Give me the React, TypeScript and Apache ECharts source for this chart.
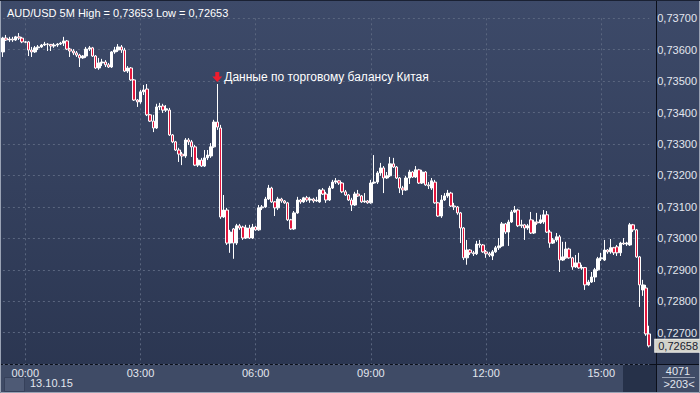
import React, { useEffect, useRef } from 'react';
import * as echarts from 'echarts';

const symbolName = 'AUD/USD';
const timeframe = '5M';
const sessionDate = '13.10.15';
const firstBarTime = '23:25';
const barMinutes = 5;
const volumeLabel = '4071';
const newsTime = '05:00';
const newsText = 'Данные по торговому балансу Китая';

const priceMin = 0.726;
const priceMax = 0.737;
const priceStep = 0.001;

const opens = [
  0.73593, 0.73637, 0.73631, 0.73634, 0.73631, 0.73641, 0.73637, 0.73625, 0.73625, 0.73599,
  0.73593, 0.73606, 0.73609, 0.73615, 0.73618, 0.73617, 0.73612, 0.73615, 0.73618, 0.73621,
  0.73628, 0.73602, 0.73596, 0.73590, 0.73583, 0.73574, 0.73580, 0.73602, 0.73606, 0.73580,
  0.73542, 0.73558, 0.73561, 0.73552, 0.73545, 0.73593, 0.73599, 0.73609, 0.73599, 0.73532,
  0.73542, 0.73504, 0.73440, 0.73434, 0.73466, 0.73475, 0.73393, 0.73373, 0.73351, 0.73418,
  0.73421, 0.73408, 0.73408, 0.73329, 0.73307, 0.73281, 0.73268, 0.73262, 0.73313, 0.73307,
  0.73291, 0.73233, 0.73249, 0.73230, 0.73256, 0.73262, 0.73291, 0.73370, 0.73351, 0.73068,
  0.73090, 0.72985, 0.73030, 0.72985, 0.73040, 0.73036, 0.73001, 0.73033, 0.73001, 0.73036,
  0.73027, 0.73097, 0.73100, 0.73125, 0.73160, 0.73116, 0.73097, 0.73125, 0.73119, 0.73113,
  0.73059, 0.73030, 0.73081, 0.73122, 0.73116, 0.73129, 0.73122, 0.73125, 0.73119, 0.73116,
  0.73154, 0.73141, 0.73122, 0.73160, 0.73179, 0.73183, 0.73176, 0.73148, 0.73138, 0.73122,
  0.73106, 0.73141, 0.73135, 0.73116, 0.73119, 0.73113, 0.73176, 0.73179, 0.73208, 0.73224,
  0.73192, 0.73199, 0.73237, 0.73227, 0.73192, 0.73160, 0.73154, 0.73192, 0.73211, 0.73195,
  0.73218, 0.73176, 0.73211, 0.73170, 0.73160, 0.73179, 0.73113, 0.73071, 0.73122, 0.73135,
  0.73144, 0.73103, 0.73100, 0.73081, 0.73033, 0.72938, 0.72963, 0.72954, 0.72951, 0.72982,
  0.72979, 0.72957, 0.72951, 0.72944, 0.72957, 0.72970, 0.72976, 0.73046, 0.73020, 0.73052,
  0.73084, 0.73090, 0.73040, 0.73043, 0.73033, 0.73059, 0.73017, 0.73052, 0.73049, 0.73052,
  0.73075, 0.73020, 0.72985, 0.72995, 0.73005, 0.72931, 0.72938, 0.72966, 0.72938, 0.72909,
  0.72922, 0.72906, 0.72907, 0.72852, 0.72861, 0.72877, 0.72900, 0.72935, 0.72931, 0.72963,
  0.72957, 0.72970, 0.72973, 0.72954, 0.72985, 0.72982, 0.72979, 0.73043, 0.73027, 0.72941,
  0.72836, 0.72842, 0.72696,
];

const closes = [
  0.73637, 0.73631, 0.73634, 0.73631, 0.73641, 0.73637, 0.73625, 0.73624, 0.73599, 0.73593,
  0.73606, 0.73609, 0.73615, 0.73618, 0.73617, 0.73612, 0.73615, 0.73618, 0.73621, 0.73628,
  0.73602, 0.73596, 0.73590, 0.73583, 0.73574, 0.73580, 0.73602, 0.73606, 0.73580, 0.73542,
  0.73558, 0.73561, 0.73552, 0.73545, 0.73593, 0.73599, 0.73609, 0.73599, 0.73532, 0.73542,
  0.73504, 0.73440, 0.73434, 0.73466, 0.73472, 0.73393, 0.73373, 0.73351, 0.73418, 0.73421,
  0.73408, 0.73412, 0.73329, 0.73307, 0.73281, 0.73268, 0.73262, 0.73313, 0.73307, 0.73291,
  0.73233, 0.73249, 0.73230, 0.73256, 0.73265, 0.73291, 0.73370, 0.73354, 0.73068, 0.73090,
  0.72985, 0.73020, 0.72985, 0.73040, 0.73033, 0.73001, 0.73033, 0.73001, 0.73036, 0.73027,
  0.73097, 0.73100, 0.73125, 0.73160, 0.73116, 0.73097, 0.73125, 0.73119, 0.73113, 0.73059,
  0.73030, 0.73081, 0.73122, 0.73116, 0.73129, 0.73122, 0.73125, 0.73119, 0.73122, 0.73154,
  0.73141, 0.73122, 0.73160, 0.73179, 0.73183, 0.73176, 0.73148, 0.73138, 0.73122, 0.73106,
  0.73141, 0.73135, 0.73116, 0.73119, 0.73113, 0.73176, 0.73179, 0.73208, 0.73224, 0.73192,
  0.73199, 0.73237, 0.73227, 0.73192, 0.73160, 0.73154, 0.73192, 0.73211, 0.73195, 0.73218,
  0.73176, 0.73211, 0.73170, 0.73167, 0.73183, 0.73113, 0.73071, 0.73122, 0.73135, 0.73144,
  0.73103, 0.73100, 0.73081, 0.73033, 0.72938, 0.72963, 0.72954, 0.72951, 0.72982, 0.72979,
  0.72957, 0.72951, 0.72947, 0.72957, 0.72970, 0.72976, 0.73046, 0.73020, 0.73052, 0.73084,
  0.73090, 0.73040, 0.73043, 0.73033, 0.73040, 0.73017, 0.73052, 0.73049, 0.73059, 0.73075,
  0.73020, 0.72985, 0.72995, 0.73005, 0.72931, 0.72941, 0.72966, 0.72938, 0.72909, 0.72922,
  0.72906, 0.72907, 0.72852, 0.72861, 0.72877, 0.72900, 0.72935, 0.72938, 0.72963, 0.72957,
  0.72970, 0.72954, 0.72954, 0.72985, 0.72982, 0.72985, 0.73043, 0.73027, 0.72941, 0.72852,
  0.72852, 0.72696, 0.72658,
];

const lows = [
  0.73577, 0.73628, 0.73625, 0.73625, 0.73628, 0.73631, 0.73621, 0.73621, 0.73580, 0.73577,
  0.73590, 0.73599, 0.73606, 0.73612, 0.73596, 0.73596, 0.73606, 0.73609, 0.73615, 0.73612,
  0.73599, 0.73577, 0.73583, 0.73577, 0.73545, 0.73571, 0.73574, 0.73596, 0.73577, 0.73539,
  0.73536, 0.73548, 0.73545, 0.73542, 0.73542, 0.73587, 0.73593, 0.73590, 0.73529, 0.73526,
  0.73501, 0.73437, 0.73418, 0.73428, 0.73456, 0.73389, 0.73370, 0.73338, 0.73348, 0.73408,
  0.73399, 0.73402, 0.73326, 0.73303, 0.73278, 0.73243, 0.73233, 0.73256, 0.73297, 0.73259,
  0.73230, 0.73227, 0.73227, 0.73227, 0.73249, 0.73256, 0.73288, 0.73345, 0.73062, 0.73065,
  0.72979, 0.72954, 0.72935, 0.72979, 0.73027, 0.72995, 0.72998, 0.72998, 0.72998, 0.73024,
  0.73024, 0.73090, 0.73097, 0.73122, 0.73113, 0.73071, 0.73090, 0.73113, 0.73110, 0.73055,
  0.73027, 0.73027, 0.73078, 0.73110, 0.73113, 0.73116, 0.73113, 0.73113, 0.73116, 0.73113,
  0.73138, 0.73113, 0.73119, 0.73157, 0.73173, 0.73170, 0.73144, 0.73135, 0.73119, 0.73087,
  0.73103, 0.73132, 0.73113, 0.73113, 0.73110, 0.73110, 0.73173, 0.73173, 0.73199, 0.73144,
  0.73189, 0.73195, 0.73224, 0.73189, 0.73144, 0.73138, 0.73151, 0.73173, 0.73192, 0.73192,
  0.73173, 0.73173, 0.73167, 0.73157, 0.73154, 0.73110, 0.73068, 0.73065, 0.73119, 0.73129,
  0.73100, 0.73090, 0.73075, 0.72985, 0.72931, 0.72916, 0.72947, 0.72944, 0.72947, 0.72970,
  0.72954, 0.72938, 0.72941, 0.72931, 0.72954, 0.72963, 0.72973, 0.73014, 0.72976, 0.73049,
  0.73081, 0.73036, 0.73033, 0.72995, 0.73027, 0.73014, 0.73014, 0.73043, 0.73046, 0.73046,
  0.73017, 0.72970, 0.72982, 0.72989, 0.72893, 0.72928, 0.72935, 0.72935, 0.72900, 0.72906,
  0.72903, 0.72900, 0.72836, 0.72849, 0.72858, 0.72861, 0.72896, 0.72928, 0.72928, 0.72951,
  0.72951, 0.72947, 0.72944, 0.72944, 0.72979, 0.72976, 0.72976, 0.73020, 0.72938, 0.72782,
  0.72817, 0.72690, 0.72653,
];

const highs = [
  0.73641, 0.73647, 0.73641, 0.73641, 0.73644, 0.73653, 0.73641, 0.73628, 0.73628, 0.73609,
  0.73612, 0.73615, 0.73618, 0.73625, 0.73621, 0.73618, 0.73621, 0.73621, 0.73625, 0.73641,
  0.73631, 0.73606, 0.73602, 0.73596, 0.73587, 0.73583, 0.73609, 0.73612, 0.73609, 0.73583,
  0.73574, 0.73571, 0.73567, 0.73558, 0.73596, 0.73609, 0.73618, 0.73615, 0.73606, 0.73548,
  0.73545, 0.73507, 0.73443, 0.73472, 0.73488, 0.73491, 0.73396, 0.73393, 0.73428, 0.73431,
  0.73428, 0.73424, 0.73415, 0.73332, 0.73310, 0.73288, 0.73275, 0.73319, 0.73319, 0.73313,
  0.73297, 0.73256, 0.73256, 0.73281, 0.73281, 0.73303, 0.73377, 0.73491, 0.73361, 0.73138,
  0.73097, 0.73027, 0.73033, 0.73046, 0.73046, 0.73040, 0.73043, 0.73043, 0.73046, 0.73040,
  0.73106, 0.73106, 0.73132, 0.73170, 0.73164, 0.73119, 0.73132, 0.73129, 0.73122, 0.73116,
  0.73062, 0.73087, 0.73132, 0.73125, 0.73132, 0.73135, 0.73132, 0.73129, 0.73132, 0.73157,
  0.73160, 0.73148, 0.73167, 0.73186, 0.73192, 0.73186, 0.73179, 0.73154, 0.73141, 0.73129,
  0.73148, 0.73154, 0.73138, 0.73144, 0.73122, 0.73186, 0.73265, 0.73214, 0.73240, 0.73230,
  0.73211, 0.73259, 0.73256, 0.73230, 0.73195, 0.73167, 0.73199, 0.73218, 0.73214, 0.73230,
  0.73221, 0.73218, 0.73214, 0.73179, 0.73192, 0.73186, 0.73116, 0.73138, 0.73144, 0.73154,
  0.73148, 0.73113, 0.73103, 0.73084, 0.73036, 0.72995, 0.72966, 0.72960, 0.72992, 0.72995,
  0.72982, 0.72963, 0.72957, 0.72963, 0.72976, 0.73001, 0.73052, 0.73049, 0.73059, 0.73090,
  0.73103, 0.73094, 0.73059, 0.73046, 0.73046, 0.73084, 0.73059, 0.73081, 0.73075, 0.73090,
  0.73087, 0.73027, 0.73001, 0.73017, 0.73011, 0.72989, 0.72989, 0.72970, 0.72941, 0.72947,
  0.72954, 0.72916, 0.72909, 0.72868, 0.72893, 0.72906, 0.72941, 0.72954, 0.72995, 0.72966,
  0.72998, 0.72973, 0.72979, 0.72989, 0.73001, 0.72989, 0.73049, 0.73046, 0.73030, 0.72944,
  0.72868, 0.72852, 0.72722,
];

const FONT = '"Liberation Sans Narrow", "Liberation Sans", Arial, sans-serif';
const FONT_REG = '"Liberation Sans", Arial, sans-serif';

const fmt = (v: number) => v.toFixed(5).replace('.', ',');

function buildTimes(n: number): string[] {
  const [h0, m0] = firstBarTime.split(':').map(Number);
  const out: string[] = [];
  for (let i = 0; i < n; i++) {
    const t = (h0 * 60 + m0 + i * barMinutes) % 1440;
    const hh = String(Math.floor(t / 60)).padStart(2, '0');
    const mm = String(t % 60).padStart(2, '0');
    out.push(`${hh}:${mm}`);
  }
  return out;
}

const isMajor = (_i: number, val: string) => {
  const [h, m] = val.split(':');
  return m === '00' && Number(h) % 3 === 0;
};

export default function App() {
  const ref = useRef<HTMLDivElement>(null);
  useEffect(() => {
    if (!ref.current) return;
    const chart = echarts.init(ref.current, null, { renderer: 'svg' });
    const times = buildTimes(closes.length);
    const ohlc = closes.map((c, i) => [opens[i], c, lows[i], highs[i]]);
    const maxHigh = Math.max(...highs);
    const minLow = Math.min(...lows);
    const lastIdx = closes.length - 1;
    const lastClose = closes[lastIdx];
    const newsIdx = times.indexOf(newsTime);

    const option: any = {
      animation: false,
      backgroundColor: new echarts.graphic.LinearGradient(0, 0, 0, 1, [
        { offset: 0, color: '#3d4a69' },
        { offset: 1, color: '#2a3550' },
      ]),
      textStyle: { fontFamily: FONT },
      title: {
        text: `${symbolName} ${timeframe} High = ${fmt(maxHigh)} Low = ${fmt(minLow)}`,
        left: 2,
        top: 2,
        textStyle: { color: '#ffffff', fontSize: 11, fontWeight: 'normal', fontFamily: FONT_REG },
      },
      grid: { left: 2.9, right: 46.3, top: 18.3, bottom: 28.9 },
      xAxis: {
        type: 'category',
        data: times,
        boundaryGap: false,
        axisLine: { show: false },
        axisTick: { show: false },
        axisLabel: { interval: isMajor, color: '#e2e6ee', fontSize: 11, margin: 3, fontFamily: FONT },
        splitLine: { show: true, interval: isMajor, lineStyle: { color: '#5a667f', type: [2, 3], width: 1 } },
      },
      yAxis: {
        type: 'value',
        position: 'right',
        min: priceMin,
        max: priceMax,
        interval: priceStep,
        axisLine: { show: false },
        axisTick: { show: false },
        axisLabel: { formatter: fmt, color: '#e2e6ee', fontSize: 11, margin: 8, fontFamily: FONT, showMinLabel: false },
        splitLine: { show: true, lineStyle: { color: '#5a667f', type: [2, 3], width: 1 } },
      },
      series: [
        {
          type: 'candlestick',
          data: ohlc,
          barWidth: 3,
          clip: false,
          itemStyle: {
            color: '#ffffff',
            color0: '#e3173d',
            borderColor: '#ffffff',
            borderColor0: '#ffffff',
            borderWidth: 1,
          },
          markPoint: {
            silent: true,
            data: [
              {
                coord: [newsIdx, highs[newsIdx]],
                symbol: 'path://M3,0L7,0L7,5L10,5L5,11L0,5L3,5Z',
                symbolSize: [10, 10],
                symbolOffset: [0, -7],
                itemStyle: { color: '#ee1c2e' },
                label: {
                  show: true,
                  position: 'right',
                  distance: 2,
                  formatter: newsText,
                  color: '#ffffff',
                  fontSize: 12,
                  fontFamily: FONT_REG,
                },
              },
            ],
          },
          markLine: {
            silent: true,
            symbol: 'none',
            lineStyle: { width: 0, color: 'rgba(0,0,0,0)' },
            data: [
              [
                { coord: [lastIdx - 1, lastClose] },
                { coord: [lastIdx, lastClose] },
              ],
            ],
            label: {
              show: true,
              position: 'end',
              distance: 6,
              formatter: () => fmt(lastClose),
              backgroundColor: '#d2d2ca',
              borderColor: '#eeeeea',
              borderWidth: 1,
              color: '#18202e',
              padding: [1, 2, 0, 3],
              fontSize: 11,
              fontFamily: FONT,
            },
          },
        },
      ],
      graphic: [
        { type: 'rect', shape: { x: 0, y: 364.5, width: 700, height: 28.5 }, style: { fill: '#3f4b66' } },
        { type: 'rect', shape: { x: 623, y: 365, width: 33, height: 27 }, style: { fill: '#263149' } },
        { type: 'rect', shape: { x: 4.5, y: 377.5, width: 20, height: 14 }, style: { fill: '#4e5a75', stroke: '#36415b', lineWidth: 1 } },
        { type: 'line', shape: { x1: 0, y1: 364.5, x2: 700, y2: 364.5 }, style: { stroke: '#0b0f1a', lineWidth: 1 } },
        { type: 'line', shape: { x1: 656.5, y1: 0, x2: 656.5, y2: 393 }, style: { stroke: '#0b0f1a', lineWidth: 1 } },
        { type: 'text', x: 30, y: 383, style: { text: sessionDate, fill: '#e2e6ee', fontSize: 11, fontFamily: FONT, verticalAlign: 'middle' } },
        { type: 'text', x: 678, y: 371, style: { text: volumeLabel, fill: '#e2e6ee', fontSize: 11, fontFamily: FONT, align: 'center', verticalAlign: 'middle' } },
        { type: 'line', shape: { x1: 662, y1: 377.5, x2: 695, y2: 377.5 }, style: { stroke: '#9aa2b4', lineWidth: 1 } },
        { type: 'text', x: 679, y: 384, style: { text: `>${closes.length}<`, fill: '#e2e6ee', fontSize: 11, fontFamily: FONT, align: 'center', verticalAlign: 'middle' } },
        { type: 'rect', shape: { x: 0.5, y: 0.5, width: 699, height: 392 }, style: { fill: 'none', stroke: '#9aa3b5', lineWidth: 1 } },
        { type: 'line', shape: { x1: 0, y1: 0.5, x2: 700, y2: 0.5 }, style: { stroke: '#1a2133', lineWidth: 1 } },
      ],
    };
    chart.setOption(option);
    return () => chart.dispose();
  }, []);
  return <div ref={ref} style={{ position: 'fixed', left: 0, top: 0, width: 700, height: 393 }} />;
}
